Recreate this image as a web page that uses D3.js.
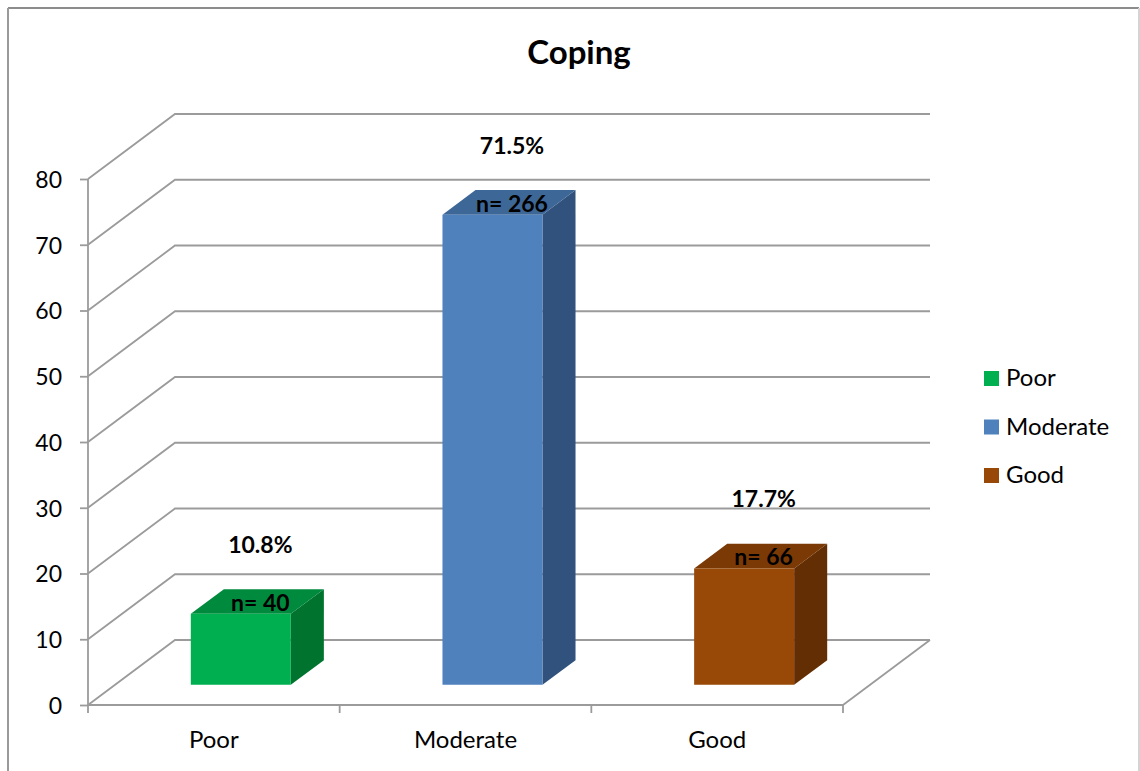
<!DOCTYPE html>
<html><head><meta charset="utf-8">
<script src="https://cdn.jsdelivr.net/npm/d3@7"></script>
<style>body{margin:0;background:#fff}svg{display:block}</style>
</head><body>
<svg id="c" width="1140" height="771"></svg>
<script>
const categories = ["Poor", "Moderate", "Good"];
const values = [10.8, 71.5, 17.7];
const counts = [40, 266, 66];
const percentLabels = ["10.8%", "71.5%", "17.7%"];
const yTicks = [0, 10, 20, 30, 40, 50, 60, 70, 80];
const frontColors = ["#00b050", "#4f81bd", "#984807"];
const topColors = ["#008a3e", "#3d6796", "#7a3905"];
const sideColors = ["#00742f", "#30527c", "#632e04"];

const svg = d3.select("#c");
const FONT = "Lato, 'Open Sans', sans-serif";

// border
svg.append("line").attr("x1",8).attr("y1",8).attr("x2",1139).attr("y2",8).attr("stroke","#8c8c8c").attr("stroke-width",2);
svg.append("line").attr("x1",8).attr("y1",8).attr("x2",8).attr("y2",771).attr("stroke","#9a9a9a").attr("stroke-width",2);
svg.append("line").attr("x1",1139).attr("y1",8).attr("x2",1139).attr("y2",771).attr("stroke","#d4d4d4").attr("stroke-width",2);

// title
svg.append("text").attr("x",579).attr("y",64).attr("text-anchor","middle")
  .attr("font-family",FONT).attr("font-weight","bold").attr("font-size",33).text("Coping");

const x = d3.scaleBand().domain(categories).range([88, 843]);
const y = d3.scaleLinear().domain([0, 80]).range([705, 179]);
// depth: 0 = front, 1 = back wall
const depthX = d3.scaleLinear().domain([0,1]).range([0, 87]);
const depthY = d3.scaleLinear().domain([0,1]).range([0, -65]);
const P = (px, v, t) => [px + depthX(t), y(v) + depthY(t)];

const grid = svg.append("g").attr("fill","none").attr("stroke","#9b9b9b").attr("stroke-width",1.8);
const xEnd = x.range()[1];
yTicks.forEach(v => {
  const a = P(88, v, 0), b = P(88, v, 1), c = P(xEnd, v, 1);
  grid.append("path").attr("d", d3.line()([a, b, c]));
});
// floor right edge
grid.append("path").attr("d", d3.line()([P(xEnd,0,0), P(xEnd,0,1)]));

// axes
const yAxis = d3.axisLeft(y).tickValues(yTicks).tickSize(8).tickPadding(18);
const gy = svg.append("g").attr("transform","translate(88,0)").call(yAxis);
gy.select(".domain").attr("stroke","#9b9b9b").attr("stroke-width",1.8).attr("d","M0,"+y(80)+"V"+y(0));
gy.selectAll(".tick line").attr("stroke","#9b9b9b").attr("stroke-width",1.8);
gy.selectAll(".tick text").attr("font-family",FONT).attr("font-size",23).attr("fill","#000").attr("dy","0.36em");

const gx = svg.append("g").attr("transform","translate(0,705)");
gx.append("line").attr("x1",88).attr("x2",xEnd).attr("stroke","#9b9b9b").attr("stroke-width",1.8);
const tickXs = [88].concat(categories.map(c => x(c) + x.bandwidth()));
gx.selectAll(".tk").data(tickXs).enter().append("line")
  .attr("x1",d=>d).attr("x2",d=>d).attr("y1",0).attr("y2",8).attr("stroke","#9b9b9b").attr("stroke-width",1.8);
gx.selectAll(".lb").data(categories).enter().append("text")
  .attr("x",d=>x(d)+x.bandwidth()/2).attr("y",43).attr("text-anchor","middle")
  .attr("font-family",FONT).attr("font-size",24).text(d=>d);

// bars
const t0 = 0.31, t1 = 0.69, barW = 100;
const bars = svg.append("g");
categories.forEach((c, i) => {
  const cx = x(c) + x.bandwidth()/2;
  const xl = cx - barW/2, xr = cx + barW/2, v = values[i];
  const line = d3.line();
  // side
  bars.append("path").attr("fill", sideColors[i])
    .attr("d", line([P(xr,0,t0), P(xr,v,t0), P(xr,v,t1), P(xr,0,t1)]) + "Z");
  // top
  bars.append("path").attr("fill", topColors[i])
    .attr("d", line([P(xl,v,t0), P(xr,v,t0), P(xr,v,t1), P(xl,v,t1)]) + "Z");
  // front
  bars.append("path").attr("fill", frontColors[i])
    .attr("d", line([P(xl,0,t0), P(xr,0,t0), P(xr,v,t0), P(xl,v,t0)]) + "Z");
  const top = P(cx, v, t0);
  const lx = P(cx, v, (t0 + t1) / 2)[0] + 3;
  bars.append("text").attr("x", lx).attr("y", top[1] - 3).attr("text-anchor","middle")
    .attr("font-family",FONT).attr("font-weight","bold").attr("font-size",23).text("n= " + counts[i]);
  bars.append("text").attr("x", lx).attr("y", top[1] - 61).attr("text-anchor","middle")
    .attr("font-family",FONT).attr("font-weight","bold").attr("font-size",23).text(percentLabels[i]);
});

// legend
const leg = svg.append("g").attr("transform","translate(984,371)");
categories.forEach((c, i) => {
  const g = leg.append("g").attr("transform","translate(0," + (i*48.5) + ")");
  g.append("rect").attr("width",15).attr("height",15).attr("fill",frontColors[i]);
  g.append("text").attr("x",22).attr("y",15).attr("font-family",FONT).attr("font-size",24).text(c);
});
</script>
</body></html>
